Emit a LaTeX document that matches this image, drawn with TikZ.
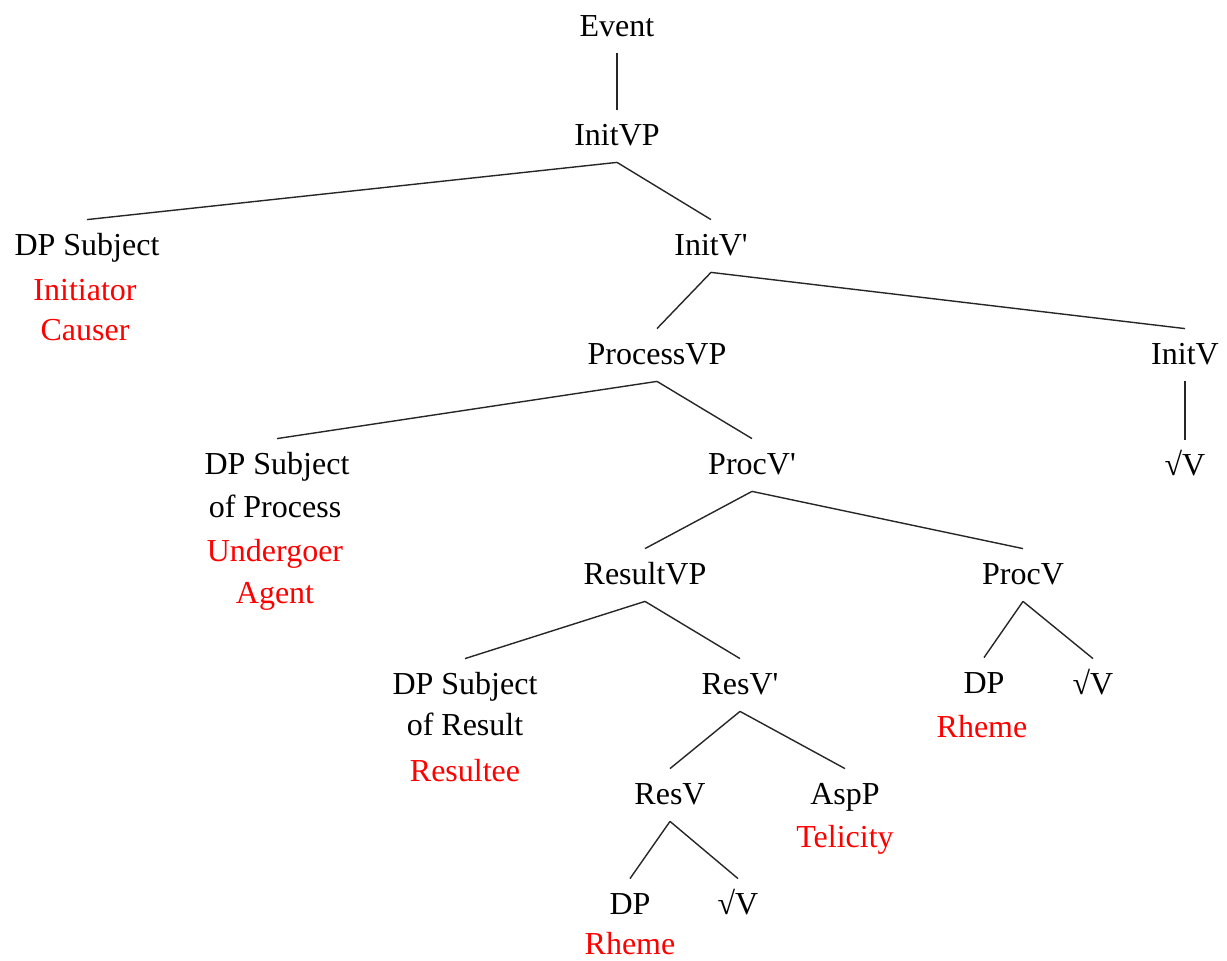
\documentclass[tikz,border=0pt]{standalone}
\usepackage{fontspec}
\setmainfont{Liberation Serif}
\begin{document}
\begin{tikzpicture}[x=0.5pt,y=-0.5pt,
  lab/.style={anchor=base, inner sep=0pt, text height=18pt, text depth=8pt,
    font=\fontsize{16}{19}\selectfont},
  role/.style={lab, text=red},
  edge/.style={draw=black!85, line width=0.7pt}]
\useasboundingbox (0,0) rectangle (1227,961);

% top spine
\node[lab] (event)  at (617,37)  {Event};
\node[lab] (initvp) at (617,146) {InitVP};

% initiator level
\node[lab]  (dpinit)   at (87,256)  {DP Subject};
\node[role] (initiator) at (85,301) {Initiator};
\node[role] (causer)   at (85,341)  {Causer};
\node[lab]  (initvbar) at (711,256) {InitV\textquotesingle};

% process level
\node[lab] (procvp) at (657,365)  {ProcessVP};
\node[lab] (initv)  at (1185,365) {InitV};
\node[lab] (rootA)  at (1185,476) {√V};

\node[lab]  (dpproc)    at (277,475) {DP Subject};
\node[lab]  (ofproc)    at (275,518) {of Process};
\node[role] (undergoer) at (275,562) {Undergoer};
\node[role] (agent)     at (275,604) {Agent};
\node[lab]  (procvbar)  at (752,475) {ProcV\textquotesingle};

% result level
\node[lab] (resvp) at (645,585)  {ResultVP};
\node[lab] (procv) at (1023,585) {ProcV};

\node[lab]  (dpres)    at (465,695) {DP Subject};
\node[lab]  (ofres)    at (465,736) {of Result};
\node[role] (resultee) at (465,782) {Resultee};
\node[lab]  (resvbar)  at (740,695) {ResV\textquotesingle};
\node[lab]  (dpB)      at (984,694) {DP};
\node[lab]  (rootB)    at (1093,695) {√V};
\node[role] (rhemeB)   at (982,738) {Rheme};

\node[lab]  (resv)     at (670,805) {ResV};
\node[lab]  (aspp)     at (845,805) {AspP};
\node[role] (telicity) at (845,848) {Telicity};

\node[lab]  (dpC)    at (630,915) {DP};
\node[lab]  (rootC)  at (738,915) {√V};
\node[role] (rhemeC) at (630,955) {Rheme};

% branches
\draw[edge] (event.south) -- (initvp.north);
\draw[edge] (initvp.south) -- (dpinit.north);
\draw[edge] (initvp.south) -- (initvbar.north);
\draw[edge] (initvbar.south) -- (procvp.north);
\draw[edge] (initvbar.south) -- (initv.north);
\draw[edge] (initv.south) -- (rootA.north);
\draw[edge] (procvp.south) -- (dpproc.north);
\draw[edge] (procvp.south) -- (procvbar.north);
\draw[edge] (procvbar.south) -- (resvp.north);
\draw[edge] (procvbar.south) -- (procv.north);
\draw[edge] (procv.south) -- (dpB.north);
\draw[edge] (procv.south) -- (rootB.north);
\draw[edge] (resvp.south) -- (dpres.north);
\draw[edge] (resvp.south) -- (resvbar.north);
\draw[edge] (resvbar.south) -- (resv.north);
\draw[edge] (resvbar.south) -- (aspp.north);
\draw[edge] (resv.south) -- (dpC.north);
\draw[edge] (resv.south) -- (rootC.north);
\end{tikzpicture}
\end{document}
